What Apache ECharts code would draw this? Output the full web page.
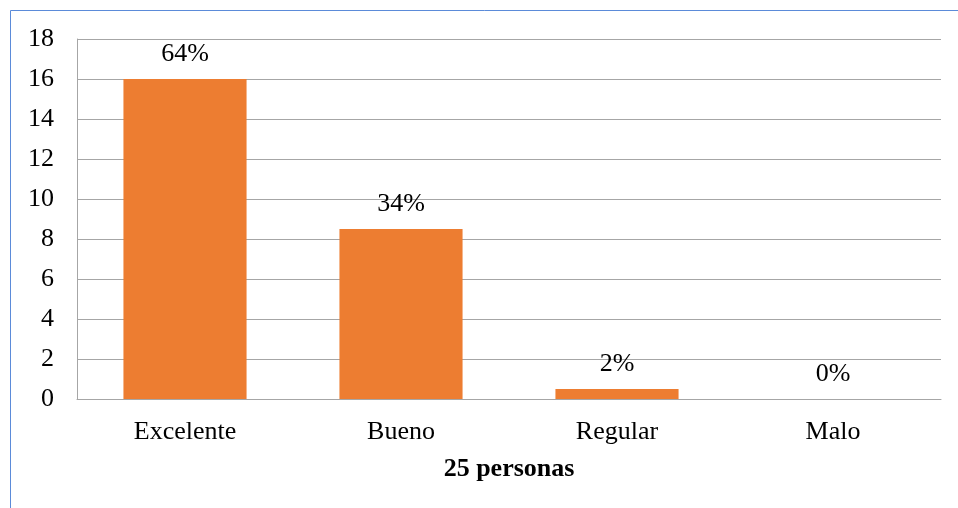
<!DOCTYPE html>
<html><head><meta charset="utf-8">
<script src="https://cdn.jsdelivr.net/npm/echarts@6/dist/echarts.min.js"></script>
<style>html,body{margin:0;padding:0;background:#fff}#c{width:958px;height:508px}</style>
</head><body><div id="c"></div>
<script>
const categories = ['Excelente', 'Bueno', 'Regular', 'Malo'];
const values = [16, 8.5, 0.5, 0];
const percentLabels = ['64%', '34%', '2%', '0%'];
const axisTitle = '25 personas';
const yMin = 0, yMax = 18, yStep = 2;

const chart = echarts.init(document.getElementById('c'), null, {renderer: 'canvas'});
const font = 'Liberation Serif, Times New Roman, serif';
chart.setOption({
  animation: false,
  textStyle: {fontFamily: font},
  graphic: [{
    type: 'rect', shape: {x: 10.5, y: 10.5, width: 1000, height: 600},
    style: {fill: 'none', stroke: '#5b8bd9', lineWidth: 1}, silent: true
  }],
  grid: {left: 77, right: 17, top: 39, bottom: 109},
  xAxis: {
    type: 'category', data: categories,
    axisLine: {lineStyle: {color: '#a6a6a6', width: 1}},
    axisTick: {show: false},
    axisLabel: {color: '#000', fontSize: 26, fontFamily: font, margin: 20},
    name: axisTitle, nameLocation: 'middle', nameGap: 57,
    nameTextStyle: {color: '#000', fontSize: 26, fontWeight: 'bold', fontFamily: font}
  },
  yAxis: {
    type: 'value', min: yMin, max: yMax, interval: yStep,
    axisLine: {show: true, lineStyle: {color: '#a6a6a6', width: 1}},
    axisTick: {show: false},
    axisLabel: {color: '#000', fontSize: 26, fontFamily: font, margin: 23},
    splitLine: {lineStyle: {color: '#a6a6a6', width: 1}}
  },
  series: [{
    type: 'bar', data: values, barWidth: '57%',
    itemStyle: {color: '#ed7d31'},
    label: {
      show: true, position: 'top', distance: 12, color: '#000', fontSize: 26, fontFamily: font,
      formatter: p => percentLabels[p.dataIndex]
    }
  }]
});
</script></body></html>
